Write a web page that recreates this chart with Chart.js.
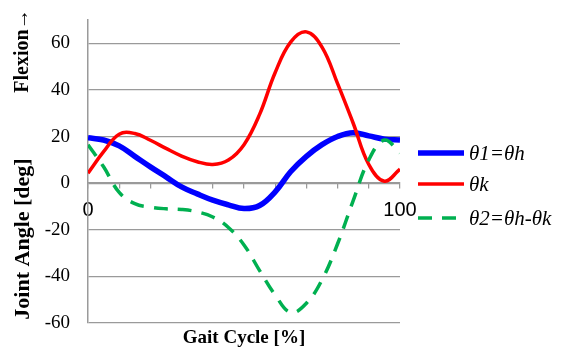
<!DOCTYPE html>
<html>
<head>
<meta charset="utf-8">
<script src="https://cdn.jsdelivr.net/npm/chart.js@4"></script>
<style>
  html, body { margin: 0; padding: 0; background: #fff; }
  #wrap { width: 563px; height: 352px; }
</style>
</head>
<body>
<div id="wrap"><canvas id="gait" width="563" height="352"></canvas></div>
<script>
// Gait cycle samples [%] and joint angles [deg]
const gaitPct   = [0, 5, 10, 15, 20, 25, 30, 35, 40, 45, 50, 55, 60, 65, 70, 75, 80, 85, 90, 95, 100];
const hipAngle  = [19.5, 18.5, 16, 11.5, 7, 2.7, -1.6, -4.6, -7.3, -9.3, -10.9, -9.6, -3.7, 5, 11.5, 16.5, 20, 21.6, 20.3, 18.9, 18.5];
const kneeAngle = [4.3, 13.5, 21, 21.3, 18.4, 14.9, 11.6, 9.2, 8, 9.9, 16.5, 29.5, 47.5, 60.6, 64.9, 58.4, 42.7, 25.7, 8, 0.8, 6];
const relAngle  = [16.5, 7, -4, -8.8, -10.3, -11, -11.3, -12.3, -14.5, -19, -26.5, -37.5, -48, -55.5, -51.5, -41.5, -26, -7.5, 10, 18.5, 13];
const seriesNames = ['θ1=θh', 'θk', 'θ2=θh-θk'];
const yTickVals = [-60, -40, -20, 0, 20, 40, 60];
const xLabelVals = [0, 100];

const gridGray = '#9a9a9a';

function pts(ys) {
  return gaitPct.map((x, i) => ({ x: x, y: ys[i] }));
}

// axis titles and the legend drawn by hand
const decorations = {
  id: 'decorations',
  afterDraw(chart) {
    const ctx = chart.ctx;
    ctx.save();
    ctx.fillStyle = '#000';
    ctx.textAlign = 'center';
    ctx.textBaseline = 'middle';

    ctx.font = 'bold 20px "Liberation Serif"';
    ctx.save();
    ctx.translate(23, 51);
    ctx.rotate(-Math.PI / 2);
    ctx.fillText('Flexion→', 0, 0);
    ctx.restore();

    ctx.font = 'bold 22px "Liberation Serif"';
    ctx.save();
    ctx.translate(23, 239);
    ctx.rotate(-Math.PI / 2);
    ctx.fillText('Joint Angle [deg]', 0, 0);
    ctx.restore();

    ctx.font = 'bold 19px "Liberation Serif"';
    ctx.fillText('Gait Cycle [%]', 244, 338);

    // legend
    const rows = [153, 184, 218];
    chart.data.datasets.forEach((ds, i) => {
      const y = rows[i];
      ctx.beginPath();
      ctx.strokeStyle = ds.borderColor;
      ctx.lineWidth = ds.borderWidth;
      ctx.setLineDash(ds.borderDash || []);
      ctx.moveTo(418, y);
      ctx.lineTo(464, y);
      ctx.stroke();
      ctx.setLineDash([]);
      ctx.font = 'italic 21px "Liberation Serif"';
      ctx.textAlign = 'left';
      ctx.fillText(ds.label, 469, y + 1);
    });
    ctx.restore();
  }
};

new Chart(document.getElementById('gait'), {
  type: 'line',
  data: {
    datasets: [
      { label: seriesNames[0], data: pts(hipAngle), borderColor: '#0000ff', borderWidth: 5.5, tension: 0.4, order: 3 },
      { label: seriesNames[1], data: pts(kneeAngle), borderColor: '#ff0000', borderWidth: 3.5, tension: 0.4, order: 2 },
      { label: seriesNames[2], data: pts(relAngle), borderColor: '#00b050', borderWidth: 3.5, tension: 0.4, borderDash: [14, 10], order: 1 }
    ]
  },
  options: {
    responsive: false,
    animation: false,
    layout: { padding: { left: 0, right: 163, top: 20, bottom: 29 } },
    elements: { point: { radius: 0 } },
    plugins: { legend: { display: false }, tooltip: { enabled: false } },
    scales: {
      x: {
        type: 'linear',
        position: { y: 0 },
        min: 0,
        max: 100,
        grid: { drawOnChartArea: false, drawTicks: true, tickLength: 5, color: gridGray, lineWidth: 1.25 },
        border: { display: true, color: gridGray, width: 1.5 },
        ticks: {
          stepSize: 10,
          autoSkip: false,
          maxRotation: 0,
          padding: 10,
          color: '#000',
          font: { family: 'Liberation Sans', size: 20 },
          callback: v => xLabelVals.includes(v) ? String(v) : ''
        }
      },
      y: {
        min: -60,
        max: 70,
        afterFit(scale) { scale.width = 88; },
        afterBuildTicks(scale) {
          scale.ticks = yTickVals.map(v => ({ value: v }));
        },
        grid: { drawTicks: false, color: gridGray, lineWidth: 1.25 },
        border: { display: true, color: gridGray, width: 1.5 },
        ticks: {
          padding: 18,
          color: '#000',
          // tiny lineHeight keeps the label padding from pushing the plot down
          font: { family: 'Liberation Serif', size: 19, lineHeight: 0.05 }
        }
      }
    }
  },
  plugins: [decorations]
});
</script>
</body>
</html>
